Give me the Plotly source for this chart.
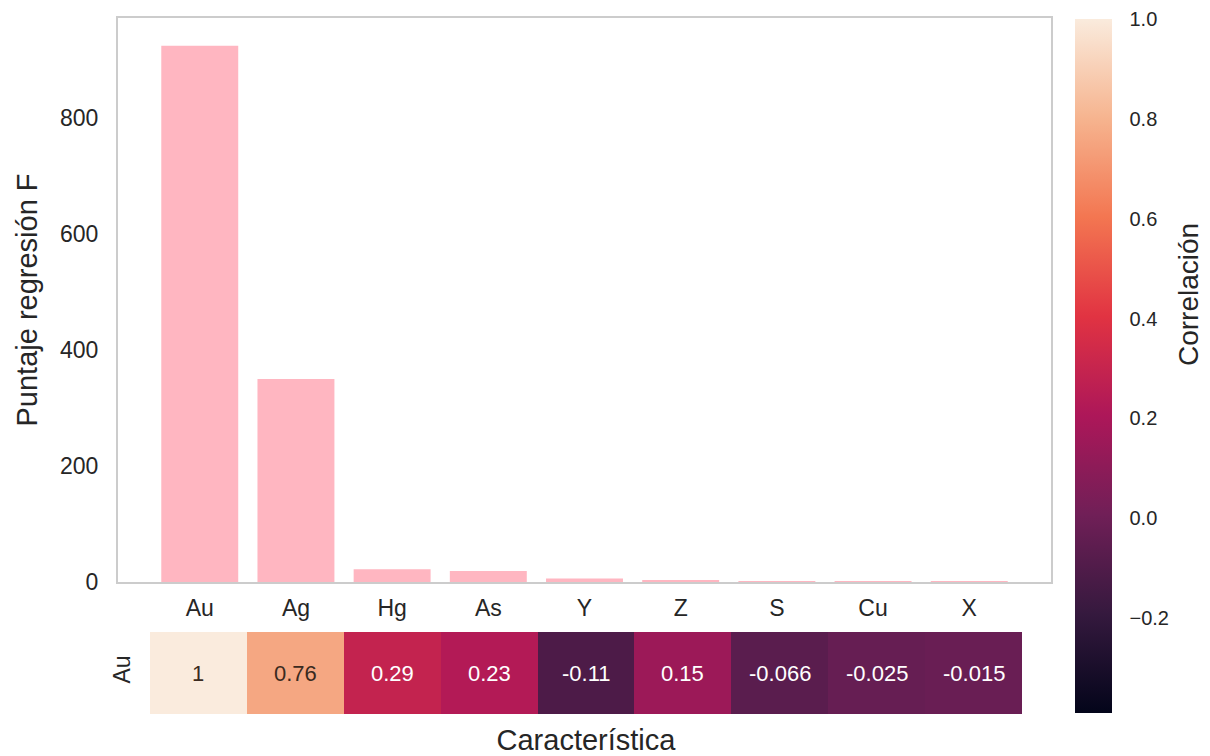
import plotly.graph_objects as go

# Features ranked by F-regression score, with their correlation to Au
features = ["Au", "Ag", "Hg", "As", "Y", "Z", "S", "Cu", "X"]
f_scores = [924, 350, 22, 19, 6, 2, 0.8, 0.3, 0.1]
corr_au = [1, 0.76, 0.29, 0.23, -0.11, 0.15, -0.066, -0.025, -0.015]
corr_labels = ["1", "0.76", "0.29", "0.23", "-0.11", "0.15", "-0.066", "-0.025", "-0.015"]
score_ticks = [0, 200, 400, 600, 800]
corr_ticks = [-0.2, 0.0, 0.2, 0.4, 0.6, 0.8, 1.0]
corr_tick_text = ["\u22120.2", "0.0", "0.2", "0.4", "0.6", "0.8", "1.0"]

# Seaborn "rocket" colormap
rocket = [
    [0.0, "#03051a"],
    [0.1429, "#35193e"],
    [0.2857, "#701f57"],
    [0.4286, "#ad1759"],
    [0.5714, "#e13342"],
    [0.7143, "#f37651"],
    [0.8571, "#f6b48f"],
    [1.0, "#faebdd"],
]
cmin, cmax = -0.39, 1.0

W, H = 1210, 756
def px(x):
    return x / W
def py(y):
    return 1 - y / H

FONT = "Liberation Sans, Arial, sans-serif"
TXT = "#262626"
TICK = 23
LABEL = 29

fig = go.Figure()

fig.add_trace(go.Bar(
    x=features, y=f_scores, marker_color="#ffb6c1", marker_line_width=0,
    width=0.8, xaxis="x", yaxis="y", showlegend=False,
))

# annotation text colour by cell brightness
text_colors = ["#3a2a20" if v > 0.6 else "white" for v in corr_au]

fig.add_trace(go.Heatmap(
    z=[corr_au], x=features, y=["Au"], colorscale=rocket, zmin=cmin, zmax=cmax,
    xaxis="x2", yaxis="y2", xgap=0, ygap=0,
    colorbar=dict(
        x=px(1075), xanchor="left", xpad=0, thickness=37, thicknessmode="pixels",
        y=py(19), yanchor="top", ypad=0, len=713 - 19, lenmode="pixels",
        outlinewidth=0, tickvals=corr_ticks, ticktext=corr_tick_text,
        ticks="outside", ticklen=14, tickcolor="rgba(0,0,0,0)",
        tickfont=dict(family=FONT, size=20, color=TXT),
    ),
    showscale=True,
))

for f, lab, col in zip(features, corr_labels, text_colors):
    fig.add_annotation(x=f, y="Au", xref="x2", yref="y2", text=lab, showarrow=False,
                       font=dict(family=FONT, size=22, color=col))

# colour bar label
fig.add_annotation(x=px(1188), y=py(295), xref="paper", yref="paper",
                   text="Correlación", textangle=-90, showarrow=False,
                   xanchor="center", yanchor="middle",
                   font=dict(family=FONT, size=LABEL - 1, color=TXT))

fig.update_layout(
    width=W, height=H, margin=dict(l=0, r=0, t=0, b=0),
    paper_bgcolor="white", plot_bgcolor="white",
    font=dict(family=FONT, color=TXT),
    xaxis=dict(
        domain=[px(118), px(1051)], range=[-0.85, 8.85], anchor="y",
        showgrid=False, zeroline=False, showline=True, mirror=True,
        linecolor="#cccccc", linewidth=2, ticks="", ticklabelstandoff=4,
        tickfont=dict(family=FONT, size=TICK, color=TXT), automargin=False,
    ),
    yaxis=dict(
        domain=[py(582), py(18)], range=[0, 972], anchor="x",
        showgrid=False, zeroline=False, showline=True, mirror=True,
        linecolor="#cccccc", linewidth=2, ticks="", tickvals=score_ticks,
        ticklabelstandoff=13, automargin=False,
        tickfont=dict(family=FONT, size=TICK, color=TXT),
        title=dict(text="Puntaje regresión F", standoff=14,
                   font=dict(family=FONT, size=LABEL, color=TXT)),
    ),
    xaxis2=dict(
        domain=[px(150), px(1022)], range=[-0.5, 8.5], anchor="y2",
        showgrid=False, zeroline=False, showline=False, showticklabels=False,
        ticks="", automargin=False,
        title=dict(text="Característica", standoff=15,
                   font=dict(family=FONT, size=LABEL, color=TXT)),
    ),
    yaxis2=dict(
        domain=[py(714), py(632)], anchor="x2",
        showgrid=False, zeroline=False, showline=False, ticks="",
        tickangle=-90, ticklabelstandoff=14, automargin=False,
        tickfont=dict(family=FONT, size=TICK, color=TXT),
    ),
)

fig.write_html("out.html")
